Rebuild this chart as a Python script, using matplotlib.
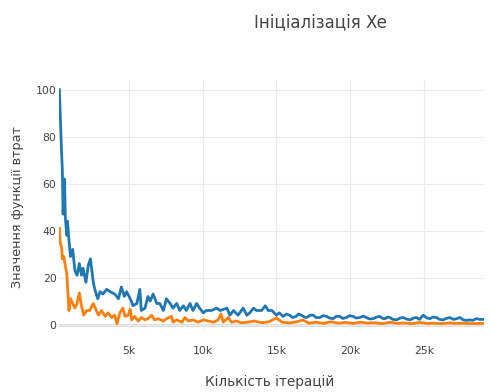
import matplotlib
matplotlib.use("Agg")
import matplotlib.pyplot as plt
from matplotlib.ticker import FuncFormatter

# loss curve, first run (blue)
blue_iter = [300, 450, 500, 550, 650, 700, 800, 850, 950, 1050, 1200, 1350, 1500,
             1650, 1800, 1900, 2100, 2250, 2400, 2600, 2700, 2900, 3050, 3250, 3500,
             3750, 4050, 4300, 4500, 4700, 4850, 5100, 5300, 5550, 5750, 5850, 6100,
             6300, 6450, 6650, 6900, 7100, 7350, 7550, 7800, 8000, 8250, 8450, 8700,
             8900, 9150, 9350, 9600, 9800, 10050, 10250, 10600, 10950, 11200, 11650,
             11850, 12100, 12400, 12750, 13000, 13200, 13450, 13650, 14000, 14250,
             14450, 14700, 15000, 15200, 15450, 15700, 15900, 16100, 16350, 16500,
             16700, 16900, 17050, 17300, 17500, 17700, 17950, 18150, 18400, 18600,
             18850, 19050, 19300, 19500, 19750, 19950, 20200, 20400, 20650, 20900,
             21100, 21300, 21550, 21800, 22000, 22200, 22350, 22550, 22700, 22900,
             23150, 23400, 23600, 23800, 24050, 24300, 24500, 24700, 24950, 25200,
             25400, 25600, 25850, 26050, 26300, 26500, 26750, 27000, 27200, 27450,
             27650, 27900, 28100, 28300, 28550, 28800, 29100]
blue_loss = [100, 73, 66, 47, 62, 46, 38, 44, 36, 29, 32, 23, 21,
             26, 21, 24, 18, 25, 28, 18, 15, 11, 14, 13, 15,
             14, 13, 11, 16, 12, 14, 11, 8, 9, 15, 6, 7,
             12, 10, 13, 9, 9, 6, 11, 9, 7, 9, 6, 8,
             6, 9, 6, 9, 7, 5, 6, 6, 7, 6, 7,
             4, 6, 4, 7, 4, 5, 7, 6, 6, 8,
             6, 6, 4, 5, 3.5, 4.5, 4, 3, 3.5, 4.5,
             4, 3.2, 3, 4, 4, 3, 3, 3.8, 3.5, 2.8,
             2.5, 3.5, 3.5, 2.6, 3, 3.8, 3.5, 2.8, 3, 3.6,
             3, 2.4, 2.5, 3.2, 3.5, 2.6, 2.5, 3.2, 3, 2.2,
             2, 2.8, 3, 2.4, 2, 2.8, 3, 2.2, 4, 2.8,
             2.5, 3.2, 3, 2.2, 2, 2.6, 3, 2.2, 2.5, 3,
             2, 1.8, 2, 1.8, 2.5, 2.2, 2.2]

# loss curve, second run (orange)
orange_iter = [300, 350, 450, 500, 600, 700, 800, 900, 950, 1050, 1200, 1350,
               1500, 1650, 1800, 1950, 2150, 2350, 2600, 2800, 2950, 3150, 3400,
               3600, 3850, 4050, 4200, 4400, 4600, 4750, 4950, 5100, 5200, 5400,
               5650, 5850, 6100, 6300, 6550, 6750, 7000, 7350, 7550, 7900, 8000,
               8250, 8600, 8800, 9050, 9350, 9700, 10050, 10400, 10750, 11050,
               11250, 11400, 11750, 11950, 12300, 12650, 13000, 13500, 14000,
               14500, 15000, 15400, 15900, 16400, 16800, 17200, 17700, 18200,
               18700, 19200, 19700, 20200, 20700, 21200, 21700, 22200, 22700,
               23200, 23700, 24200, 24700, 25200, 25700, 26200, 26700, 27200,
               27700, 28200, 28700, 29100]
orange_loss = [41, 35, 33, 28, 29, 25, 22, 11, 6, 11, 9, 7,
               9, 13.5, 8, 4, 6, 6, 9, 6, 4, 6, 3.5,
               5, 3, 4, 0.3, 5, 7, 3.5, 4, 6.5, 2, 3.5,
               1.5, 3, 2, 2.5, 4, 2, 2.5, 1.5, 2.5, 3.5, 1,
               2, 1, 3, 1.5, 2, 1, 2, 1.5, 1, 2,
               4.5, 1, 3, 1, 1.5, 0.7, 1, 1.5, 0.8,
               1.2, 2.8, 1, 0.7, 1.2, 2, 0.6, 1, 0.5,
               1.2, 0.6, 0.9, 0.5, 1, 0.6, 0.8, 0.4, 1,
               0.5, 0.7, 0.4, 0.9, 0.5, 0.6, 0.4, 0.7, 0.5,
               0.6, 0.4, 0.5, 0.5]

x_ticks = [5000, 10000, 15000, 20000, 25000]
y_ticks = [0, 20, 40, 60, 80, 100]

text_color = "#444444"
plt.rcParams["font.family"] = ["DejaVu Sans"]

fig = plt.figure(figsize=(4.92, 3.92), dpi=100)
ax = fig.add_axes([0.1207, 0.16, 0.864, 0.635])

ax.plot(blue_iter, blue_loss, color="#1f77b4", linewidth=2.0, solid_joinstyle="round")
ax.plot(orange_iter, orange_loss, color="#ff7f0e", linewidth=2.0, solid_joinstyle="round")

ax.set_xlim(300, 29100)
ax.set_ylim(-2, 104)
ax.set_xticks(x_ticks)
ax.set_yticks(y_ticks)
ax.xaxis.set_major_formatter(FuncFormatter(lambda v, _: f"{int(v / 1000)}k"))

ax.grid(True, color="#ebebeb", linewidth=0.8)
ax.axhline(0, color="#555555", linewidth=1.0, zorder=1.5)
for s in ax.spines.values():
    s.set_visible(False)
ax.tick_params(length=0, labelsize=7.8, labelcolor=text_color)
ax.tick_params(axis="x", pad=12)
ax.tick_params(axis="y", pad=2)

fig.text(320 / 492, 1 - 22 / 392, "Ініціалізація Xe", ha="center", va="center",
         fontsize=12, color=text_color)
fig.text(270 / 492, 1 - 382 / 392, "Кількість ітерацій", ha="center", va="center",
         fontsize=9.8, color=text_color)
fig.text(18 / 492, 1 - 207 / 392, "Значення функції втрат", ha="center", va="center",
         rotation=90, fontsize=9.3, color=text_color)

fig.savefig("out.png", dpi=100)
